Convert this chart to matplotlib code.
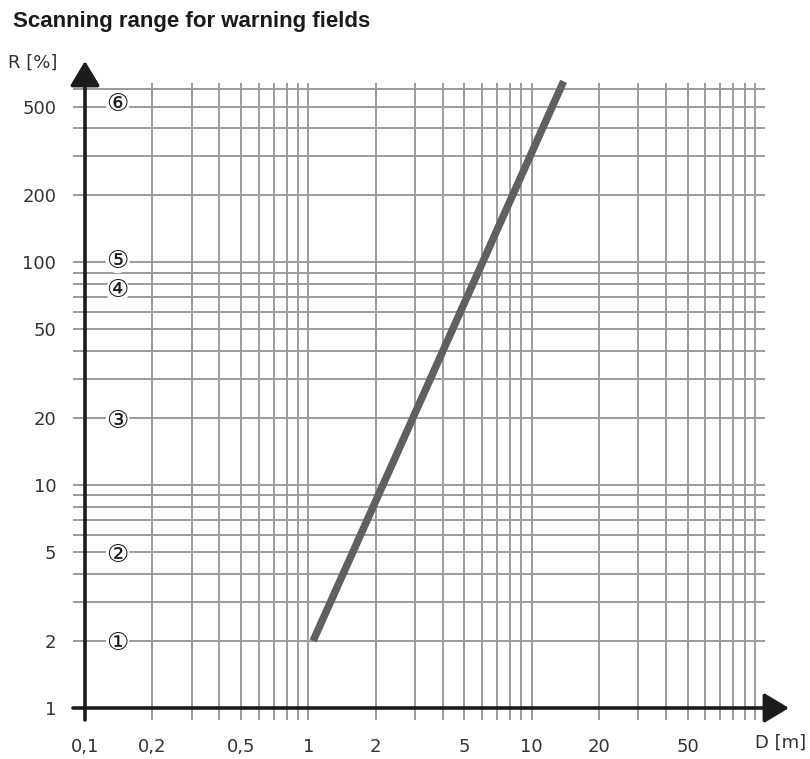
import matplotlib
matplotlib.use("Agg")
import matplotlib.pyplot as plt
import numpy as np

plt.rcParams['font.family'] = ['DejaVu Sans', 'Noto Sans CJK SC']

# ---- data ----
x_tick_values = [0.1, 0.2, 0.5, 1, 2, 5, 10, 20, 50]
x_tick_labels = ["0,1", "0,2", "0,5", "1", "2", "5", "10", "20", "50"]
y_tick_values = [1, 2, 5, 10, 20, 50, 100, 200, 500]
y_tick_labels = ["1", "2", "5", "10", "20", "50", "100", "200", "500"]
x_grid = [0.2, 0.3, 0.4, 0.5, 0.6, 0.7, 0.8, 0.9, 1,
          2, 3, 4, 5, 6, 7, 8, 9, 10,
          20, 30, 40, 50, 60, 70, 80, 90, 100]
y_grid = [2, 3, 4, 5, 6, 7, 8, 9, 10,
          20, 30, 40, 50, 60, 70, 80, 90, 100,
          200, 300, 400, 500, 600]
line_D = [1.05, 13.9]
line_R = [2, 650]
marker_labels = ["①", "②", "③", "④", "⑤", "⑥"]
marker_R = [2, 5, 20, 77, 104, 530]
marker_D = 0.14

# ---- figure layout (pixel based) ----
W, H = 810, 759
fig = plt.figure(figsize=(W / 100, H / 100), dpi=100)

px_x0, px_x1 = 73, 792
px_y_top, px_y_bot = 56, 720
ax = fig.add_axes([px_x0 / W, 1 - px_y_bot / H,
                   (px_x1 - px_x0) / W, (px_y_bot - px_y_top) / H])

xdec = (755 - 85) / 3.0
ydec = (708 - 106.7) / np.log10(500)
def xd(p):
    return 10 ** (-1 + (p - 85) / xdec)
def yd(p):
    return 10 ** ((708 - p) / ydec)

ax.set_xscale('log')
ax.set_yscale('log')
ax.set_xlim(xd(px_x0), xd(px_x1))
ax.set_ylim(yd(px_y_bot), yd(px_y_top))
for s in ax.spines.values():
    s.set_visible(False)
ax.minorticks_off()

grid_c = '#9b9b9b'
ax.vlines(x_grid, yd(720), yd(83), color=grid_c, lw=1.4, zorder=1)
ax.hlines(y_grid, xd(73), xd(765), color=grid_c, lw=1.4, zorder=1)

axis_c = '#1c1c1c'
ax.annotate('', xy=(0.1, yd(61)), xytext=(0.1, yd(720)),
            arrowprops=dict(arrowstyle='-|>,head_length=0.4,head_width=0.24',
                            mutation_scale=38, lw=2.6, color=axis_c,
                            shrinkA=0, shrinkB=0), zorder=4)
ax.annotate('', xy=(xd(789), 1), xytext=(xd(73), 1),
            arrowprops=dict(arrowstyle='-|>,head_length=0.4,head_width=0.24',
                            mutation_scale=38, lw=2.6, color=axis_c,
                            shrinkA=0, shrinkB=0), zorder=4)

ax.plot(line_D, line_R, color='#5e6164', lw=5.4, solid_capstyle='butt', zorder=3)

for lab, r in zip(marker_labels, marker_R):
    ax.text(marker_D, r, lab, ha='center', va='center_baseline', fontsize=18,
            family=['DejaVu Sans', 'Noto Sans CJK SC'], color='#1c1c1c',
            bbox=dict(boxstyle='circle,pad=0.0', fc='white', ec='none'),
            zorder=5)

ax.set_xticks(x_tick_values)
ax.set_xticklabels(x_tick_labels)
ax.set_yticks(y_tick_values)
ax.set_yticklabels(y_tick_labels)
ax.tick_params(axis='both', length=0, labelsize=13, labelcolor='#333333')
ax.tick_params(axis='x', pad=13)
ax.tick_params(axis='y', pad=12)

fig.text(781 / W, 1 - 743 / H, 'D [m]', ha='center', va='center',
         fontsize=13, color='#333333')
fig.text(33 / W, 1 - 63 / H, 'R [%]', ha='center', va='center',
         fontsize=13, color='#333333')

fig.text(13 / W, 1 - 22 / H, 'Scanning range for warning fields', ha='left',
         va='center', fontsize=16, fontweight='bold', color='#1a1a1a',
         family=['Liberation Sans', 'DejaVu Sans'])

fig.savefig('out.png', dpi=100)
